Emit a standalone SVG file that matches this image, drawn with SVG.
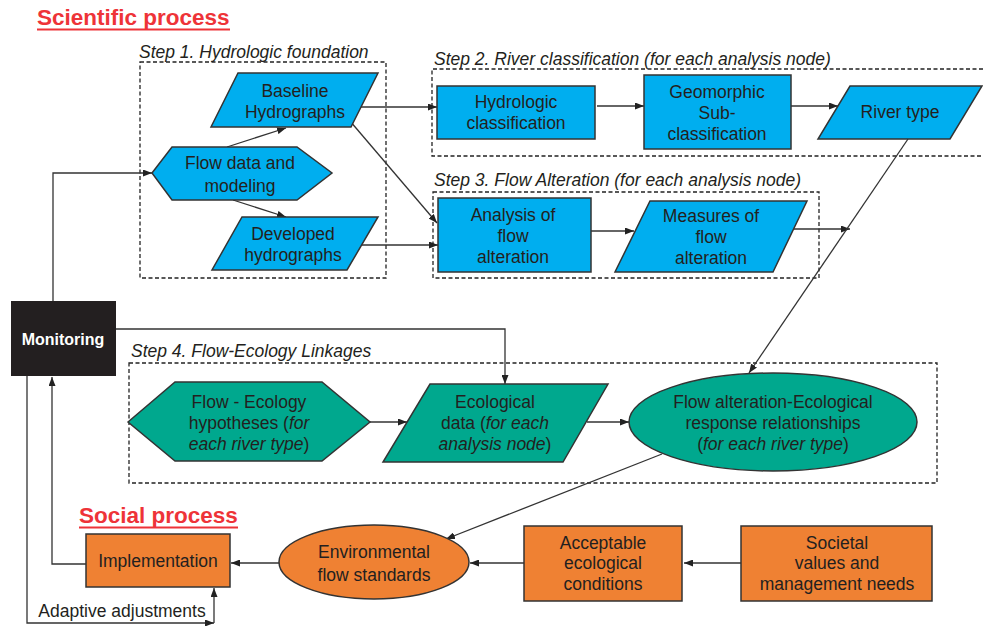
<svg xmlns="http://www.w3.org/2000/svg" width="983" height="626" viewBox="0 0 983 626">
  <style>
    .t { font-family: "Liberation Sans", Arial, sans-serif; font-size: 17.5px; fill: #231f20; text-anchor: middle; }
    .step { font-family: "Liberation Sans", Arial, sans-serif; font-size: 17.5px; font-style: italic; fill: #231f20; }
    .head { font-family: "Liberation Sans", Arial, sans-serif; font-size: 22.5px; font-weight: bold; fill: #ee3338; }
    .i { font-style: italic; }
    .blue { fill: #00aeef; stroke: #333; stroke-width: 1.5; }
    .green { fill: #00a88e; stroke: #333; stroke-width: 1.5; }
    .orange { fill: #ef8133; stroke: #333; stroke-width: 1.5; }
    .dash { fill: none; stroke: #222; stroke-width: 1.3; stroke-dasharray: 4 2.5; }
    .ln { fill: none; stroke: #333; stroke-width: 1.3; }
    .arr { marker-end: url(#ah); }
  </style>
  <defs>
    <marker id="ah" markerUnits="userSpaceOnUse" markerWidth="9" markerHeight="7" refX="9" refY="3.5" orient="auto">
      <path d="M0,0 L9,3.5 L0,7 z" fill="#222"/>
    </marker>
  </defs>

  <rect width="983" height="626" fill="#fff"/>

  <!-- section headings -->
  <text class="head" x="37" y="25">Scientific process</text>
  <line x1="37" y1="29.5" x2="230" y2="29.5" stroke="#ee3338" stroke-width="1.8"/>
  <text class="head" x="79" y="523">Social process</text>
  <line x1="79" y1="527.5" x2="238" y2="527.5" stroke="#ee3338" stroke-width="1.8"/>

  <!-- step frames -->
  <g id="step1">
    <rect class="dash" x="140" y="62" width="246" height="216"/>
    <text class="step" x="139" y="58">Step 1. Hydrologic foundation</text>
  </g>
  <g id="step2">
    <path class="dash" d="M983,69 H432 V156 H983"/>
    <text class="step" x="434" y="65">Step 2. River classification (for each analysis node)</text>
  </g>
  <g id="step3">
    <rect class="dash" x="433" y="192" width="386" height="86"/>
    <text class="step" x="434" y="186">Step 3.  Flow Alteration (for each analysis node)</text>
  </g>
  <g id="step4">
    <rect class="dash" x="129" y="363" width="808" height="120"/>
    <text class="step" x="131" y="357">Step 4. Flow-Ecology Linkages</text>
  </g>

  <!-- connectors -->
  <g id="connectors">
    <path class="ln arr" d="M227,147 L286,128"/>
    <path class="ln arr" d="M233,200 L286,217"/>
    <path class="ln arr" d="M53,301 V173 H152"/>
    <path class="ln arr" d="M360,107 H437"/>
    <path class="ln arr" d="M350,121 L437,223"/>
    <path class="ln arr" d="M362,245 H438"/>
    <path class="ln arr" d="M597,106 H644"/>
    <path class="ln arr" d="M791,106 H838"/>
    <path class="ln arr" d="M591,231 H634"/>
    <path class="ln arr" d="M794,229 H850"/>
    <path class="ln arr" d="M908,139 L749,373"/>
    <path class="ln arr" d="M116,329 H505 V384"/>
    <path class="ln arr" d="M370,422 H407"/>
    <path class="ln arr" d="M587,422 H629"/>
    <path class="ln arr" d="M662,454 L446,539"/>
    <path class="ln arr" d="M741,563 H684"/>
    <path class="ln arr" d="M524,563 H470"/>
    <path class="ln arr" d="M279,563 H231"/>
    <path class="ln arr" d="M86,564 H52 V377"/>
    <path class="ln arr" d="M27,376 V623 H214"/>
    <path class="ln arr" d="M214,623 V588"/>
    <text class="t" x="122" y="617">Adaptive adjustments</text>
  </g>

  <!-- step 1 nodes -->
  <g id="baseline">
    <polygon class="blue" points="238,73 378,73 351,127 211,127"/>
    <text class="t" x="295" y="97">Baseline</text>
    <text class="t" x="295" y="118">Hydrographs</text>
  </g>
  <g id="flowdata">
    <polygon class="blue" points="152,173 172,147 297,147 332,173 297,200 172,200"/>
    <text class="t" x="240" y="169">Flow data and</text>
    <text class="t" x="240" y="192">modeling</text>
  </g>
  <g id="developed">
    <polygon class="blue" points="242,217 378,217 347,270 212,270"/>
    <text class="t" x="293" y="240">Developed</text>
    <text class="t" x="293" y="261">hydrographs</text>
  </g>

  <!-- step 2 nodes -->
  <g id="hydroclass">
    <rect class="blue" x="437" y="86" width="158" height="53"/>
    <text class="t" x="516" y="108">Hydrologic</text>
    <text class="t" x="516" y="129">classification</text>
  </g>
  <g id="geomorphic">
    <rect class="blue" x="644" y="75" width="147" height="74"/>
    <text class="t" x="717" y="98">Geomorphic</text>
    <text class="t" x="717" y="119">Sub-</text>
    <text class="t" x="717" y="140">classification</text>
  </g>
  <g id="rivertype">
    <polygon class="blue" points="850,86 982,86 950,139 818,139"/>
    <text class="t" x="900" y="118">River type</text>
  </g>

  <!-- step 3 nodes -->
  <g id="analysis">
    <rect class="blue" x="438" y="198" width="153" height="74"/>
    <text class="t" x="513" y="221">Analysis of</text>
    <text class="t" x="513" y="242">flow</text>
    <text class="t" x="513" y="263">alteration</text>
  </g>
  <g id="measures">
    <polygon class="blue" points="650,201 807,201 773,272 615,272"/>
    <text class="t" x="711" y="222">Measures of</text>
    <text class="t" x="711" y="243">flow</text>
    <text class="t" x="711" y="264">alteration</text>
  </g>

  <!-- monitoring -->
  <g id="monitoring">
    <rect x="11" y="301" width="105" height="75" fill="#231f20"/>
    <text x="63" y="345" font-family="Liberation Sans, Arial, sans-serif" font-size="16" font-weight="bold" fill="#fff" text-anchor="middle">Monitoring</text>
  </g>

  <!-- step 4 nodes -->
  <g id="hypotheses">
    <polygon class="green" points="128,422 175,382 322,382 370,422 322,461 175,461"/>
    <text class="t" x="249" y="408">Flow - Ecology</text>
    <text class="t" x="249" y="429">hypotheses (<tspan class="i">for</tspan></text>
    <text class="t" x="249" y="450"><tspan class="i">each river type</tspan>)</text>
  </g>
  <g id="ecodata">
    <polygon class="green" points="430,384 608,384 563,462 383,462"/>
    <text class="t" x="495" y="408">Ecological</text>
    <text class="t" x="495" y="429">data (<tspan class="i">for each</tspan></text>
    <text class="t" x="495" y="450"><tspan class="i">analysis node</tspan>)</text>
  </g>
  <g id="response">
    <ellipse class="green" cx="773" cy="422" rx="144" ry="49"/>
    <text class="t" x="773" y="408">Flow alteration-Ecological</text>
    <text class="t" x="773" y="429">response relationships</text>
    <text class="t" x="773" y="450">(<tspan class="i">for each river type</tspan>)</text>
  </g>

  <!-- social process nodes -->
  <g id="implementation">
    <rect class="orange" x="86" y="534" width="144" height="53"/>
    <text class="t" x="158" y="567">Implementation</text>
  </g>
  <g id="standards">
    <ellipse class="orange" cx="374" cy="562" rx="95" ry="37"/>
    <text class="t" x="374" y="558">Environmental</text>
    <text class="t" x="374" y="581">flow standards</text>
  </g>
  <g id="acceptable">
    <rect class="orange" x="524" y="526" width="158" height="75"/>
    <text class="t" x="603" y="549">Acceptable</text>
    <text class="t" x="603" y="569">ecological</text>
    <text class="t" x="603" y="590">conditions</text>
  </g>
  <g id="societal">
    <rect class="orange" x="741" y="526" width="191" height="75"/>
    <text class="t" x="837" y="549">Societal</text>
    <text class="t" x="837" y="569">values and</text>
    <text class="t" x="837" y="590">management needs</text>
  </g>
</svg>
